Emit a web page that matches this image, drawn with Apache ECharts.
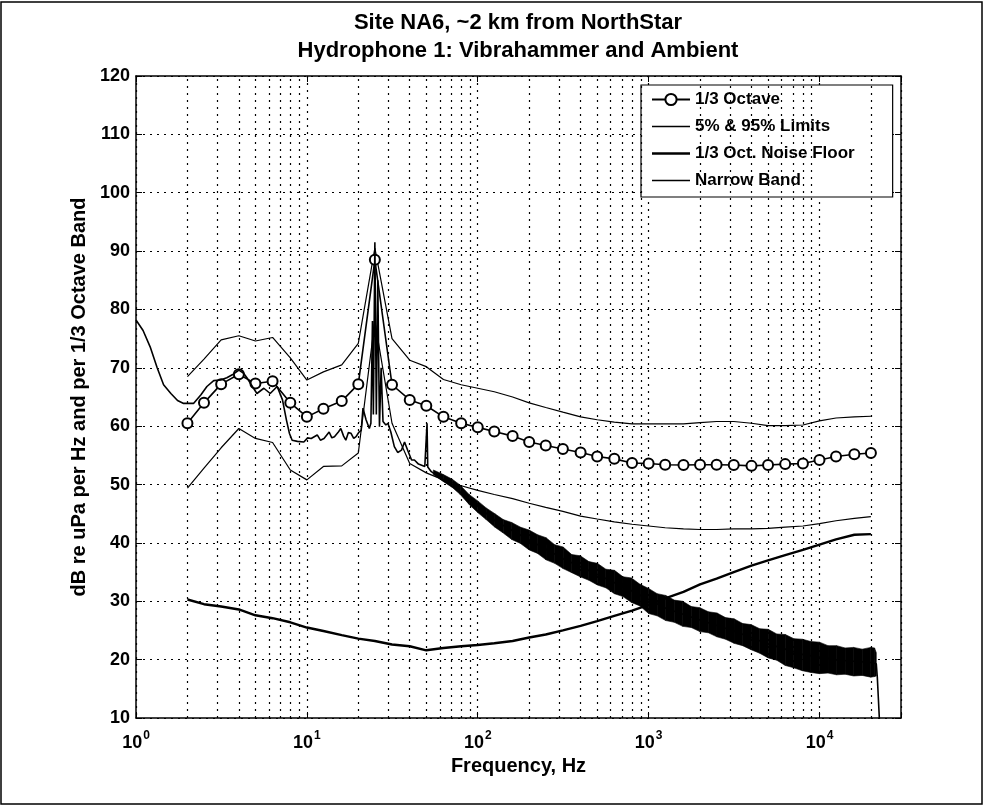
<!DOCTYPE html>
<html><head><meta charset="utf-8">
<script src="https://cdn.jsdelivr.net/npm/echarts@6/dist/echarts.min.js"></script>
<style>html,body{margin:0;padding:0;background:#fff}#c{width:985px;height:807px}</style>
</head><body><div id="c"></div><script>
const FONT = "'Liberation Sans', Arial, Helvetica, sans-serif";
const titleLines = ['Site NA6, ~2 km from NorthStar', 'Hydrophone 1: Vibrahammer and Ambient'];
const xAxisName = 'Frequency, Hz';
const yAxisName = 'dB re uPa per Hz and per 1/3 Octave Band';
const seriesNames = ['1/3 Octave', '5% & 95% Limits', '1/3 Oct. Noise Floor', 'Narrow Band'];

// 1/3 octave band centre frequencies (Hz)
const octFreq = [2, 2.5, 3.15, 4, 5, 6.3, 8, 10, 12.5, 16, 20, 25, 31.5, 40, 50, 63, 80, 100, 125, 160, 200, 250, 315, 400, 500, 630, 800, 1000, 1250, 1600, 2000, 2500, 3150, 4000, 5000, 6300, 8000, 10000, 12500, 16000, 20000];
const octLevel = [60.5, 64.0, 67.2, 68.9, 67.3, 67.7, 64.0, 61.6, 63.0, 64.3, 67.2, 88.5, 67.1, 64.5, 63.5, 61.6, 60.5, 59.8, 59.1, 58.3, 57.3, 56.7, 56.1, 55.5, 54.8, 54.4, 53.7, 53.6, 53.4, 53.35, 53.4, 53.4, 53.35, 53.2, 53.35, 53.5, 53.6, 54.2, 54.8, 55.2, 55.4];
const upperLimit = [68.5, 71.5, 74.8, 75.5, 74.6, 75.2, 71.7, 67.9, 69.3, 70.5, 74.2, 90.5, 75.0, 71.3, 70.2, 68.0, 67.1, 66.5, 65.9, 65.0, 64.0, 63.2, 62.4, 61.6, 61.1, 60.7, 60.4, 60.4, 60.4, 60.4, 60.6, 60.8, 60.8, 60.5, 60.1, 60.1, 60.2, 60.9, 61.4, 61.6, 61.7];
const lowerLimit = [49.4, 52.8, 56.3, 59.6, 57.9, 57.2, 52.5, 50.8, 53.1, 53.2, 55.4, 78.0, 60.5, 53.6, 52.0, 50.8, 49.8, 49.0, 48.3, 47.6, 46.8, 46.1, 45.4, 44.6, 44.1, 43.6, 43.2, 42.9, 42.6, 42.4, 42.3, 42.3, 42.4, 42.4, 42.5, 42.7, 42.9, 43.3, 43.8, 44.2, 44.5];
const noiseFloor = [30.3, 29.5, 29.1, 28.6, 27.6, 27.1, 26.4, 25.5, 24.9, 24.2, 23.6, 23.2, 22.6, 22.3, 21.6, 22.0, 22.3, 22.5, 22.8, 23.2, 23.8, 24.3, 25.0, 25.8, 26.6, 27.5, 28.4, 29.4, 30.5, 31.6, 32.9, 33.9, 35.0, 36.1, 37.0, 37.9, 38.8, 39.7, 40.6, 41.4, 41.5];

// narrow band spectrum (line trace)
const nbFreq = [1, 1.1, 1.21, 1.33, 1.45, 1.6, 1.75, 1.9, 2.17, 2.4, 2.6, 2.85, 3.12, 3.4, 3.66, 4.0, 4.25, 4.48, 4.8, 5.1, 5.6, 6.1, 6.7, 7.2, 7.6, 7.9, 8.2, 8.8, 9.6, 10.1, 10.6, 11.5, 12.0, 12.6, 13.5, 14.0, 14.5, 15.2, 15.8, 16.4, 16.9, 17.5, 18.1, 18.8, 19.4, 20.2, 20.8, 21.3, 22.2, 23.2, 23.7, 24.2, 24.5, 25.0, 25.5, 26.0, 26.6, 27.2, 27.9, 29.0, 29.8, 31.0, 32.5, 34.0, 35.8, 37.3, 39.0, 41.0, 42.6, 45.0, 49.0, 50.0, 50.5, 51.0, 53.5, 58.0, 62.0, 67.0, 75.0, 88.0, 100, 126, 200, 316, 501, 794, 1259, 1995, 3162, 5012, 7943, 12589, 19953, 21500, 21800, 22100, 22400, 22700];
const nbLevel = [78.2, 76.4, 73.6, 70.0, 67.1, 65.6, 64.4, 63.9, 63.9, 65.4, 66.8, 67.8, 67.9, 68.3, 68.8, 69.6, 69.1, 68.2, 66.8, 65.6, 66.5, 65.6, 66.8, 64.5, 61.0, 58.8, 57.6, 57.4, 57.3, 58.0, 57.9, 58.5, 57.6, 57.9, 59.0, 58.0, 58.2, 58.9, 59.6, 58.3, 57.6, 58.9, 58.8, 57.9, 58.2, 59.0, 59.3, 63.1, 61.1, 59.6, 60.5, 78.0, 62.0, 91.5, 62.0, 85.0, 59.9, 70.0, 60.8, 60.2, 60.5, 59.0, 56.5, 55.5, 55.9, 57.3, 55.8, 54.2, 54.2, 53.5, 53.1, 53.0, 60.5, 53.0, 52.2, 51.5, 50.8, 50.2, 49.2, 47.6, 46.3, 43.8, 40.5, 37.3, 34.6, 31.8, 28.8, 26.8, 24.9, 22.7, 20.9, 19.95, 19.5, 19.3, 17.0, 13.5, 10.0, 6.0];

// spread (upper / lower edge) of the noisy narrow band trace
const bandFreq = [55, 63, 71, 79, 89, 100, 112, 126, 141, 158, 178, 200, 224, 251, 282, 316, 355, 398, 447, 501, 562, 631, 708, 794, 891, 1000, 1122, 1259, 1413, 1585, 1778, 1995, 2239, 2512, 2818, 3162, 3548, 3981, 4467, 5012, 5623, 6310, 7079, 7943, 8913, 10000, 11220, 12589, 14125, 15849, 17783, 19953, 21000, 21500];
const bandHigh = [52.5, 51.7, 50.9, 49.9, 48.3, 47.2, 46.0, 45.0, 44.0, 43.5, 42.7, 42.2, 41.4, 40.9, 39.7, 39.3, 38.0, 37.8, 36.8, 36.5, 35.5, 35.3, 34.2, 34.0, 32.9, 32.2, 31.3, 31.0, 30.2, 30.0, 29.1, 28.9, 28.2, 28.0, 27.2, 27.0, 26.2, 26.0, 25.3, 25.2, 24.4, 24.3, 23.6, 23.5, 23.1, 23.0, 22.4, 22.4, 22.0, 22.1, 21.8, 22.1, 22.0, 21.2];
const bandLow = [51.7, 50.5, 49.5, 48.3, 46.6, 45.2, 44.0, 42.7, 41.7, 40.6, 39.9, 38.8, 38.2, 37.1, 36.5, 35.6, 34.9, 34.2, 33.6, 32.8, 32.3, 31.3, 30.8, 29.8, 29.2, 27.9, 27.5, 26.7, 26.4, 25.7, 25.5, 24.8, 24.6, 23.9, 23.5, 22.8, 22.4, 21.7, 21.1, 20.3, 19.9, 19.0, 18.6, 18.1, 17.8, 17.6, 17.7, 17.4, 17.5, 17.2, 17.3, 17.0, 17.1, 17.2];

// axes
const xMin = 1, xMax = 30000;
const yMin = 10, yMax = 120, yStep = 10;
const xMinorTicks = [2,3,4,5,6,7,8,9, 20,30,40,50,60,70,80,90, 200,300,400,500,600,700,800,900, 2000,3000,4000,5000,6000,7000,8000,9000, 20000];

const zip = (xs, ys) => xs.map((x, i) => [x, ys[i]]);
const DOT = [2, 5];
const lineIcon = 'path://M0,0H40V1.6H0Z';
const thickLineIcon = 'path://M0,0H40V2.6H0Z';

const chart = echarts.init(document.getElementById('c'), null, {renderer: 'canvas'});
const axisCommon = {
  axisLine: {show: true, onZero: false, lineStyle: {color: '#000', width: 1.5}},
  axisTick: {show: true, inside: true, length: 6, lineStyle: {color: '#000', width: 1}},
};
const option = {
  backgroundColor: '#fff',
  animation: false,
  textStyle: {fontFamily: FONT, color: '#000'},
  grid: {left: 136, right: 84, top: 76, bottom: 89, show: false},
  graphic: [
    {type: 'rect', shape: {x: 1, y: 2, width: 981, height: 802}, style: {fill: 'none', stroke: '#000', lineWidth: 1.5}, silent: true},
    {type: 'text', x: 518, y: 23, style: {text: titleLines[0], font: 'bold 22px ' + FONT, fill: '#000', textAlign: 'center', textVerticalAlign: 'middle'}},
    {type: 'text', x: 518, y: 51, style: {text: titleLines[1], font: 'bold 22px ' + FONT, fill: '#000', textAlign: 'center', textVerticalAlign: 'middle'}}
  ],
  legend: {
    data: [
      {name: seriesNames[0]},
      {name: seriesNames[1], icon: lineIcon},
      {name: seriesNames[2], icon: thickLineIcon},
      {name: seriesNames[3], icon: lineIcon}
    ],
    orient: 'vertical',
    left: 641, top: 85,
    padding: [6, 38, 8, 10],
    itemGap: 10, itemWidth: 38, itemHeight: 14,
    backgroundColor: '#fff', borderColor: '#000', borderWidth: 1.2, borderRadius: 0,
    textStyle: {fontFamily: FONT, fontSize: 17, fontWeight: 'bold', color: '#000'},
    selectedMode: false
  },
  xAxis: [
    Object.assign({
      type: 'log', logBase: 10, min: xMin, max: xMax, position: 'bottom',
      name: xAxisName, nameLocation: 'middle', nameGap: 36,
      nameTextStyle: {fontFamily: FONT, fontSize: 20, fontWeight: 'bold', color: '#000'},
      axisLabel: {
        margin: 12, color: '#000',
        formatter: function (v) {
          const e = Math.round(Math.log10(v));
          if (Math.abs(Math.log10(v) - e) > 1e-6) return '';
          return '{b|10}{s|' + e + '}';
        },
        rich: {
          b: {fontFamily: FONT, fontSize: 18, fontWeight: 'bold', color: '#000', verticalAlign: 'bottom'},
          s: {fontFamily: FONT, fontSize: 12, fontWeight: 'bold', color: '#000', verticalAlign: 'top', padding: [0, 0, 10, 1]}
        }
      },
      splitLine: {show: true, lineStyle: {color: '#000', type: DOT, width: 1.2}}
    }, axisCommon),
    Object.assign({
      type: 'log', logBase: 10, min: xMin, max: xMax, position: 'top',
      axisLabel: {show: false}, splitLine: {show: false}
    }, axisCommon)
  ],
  yAxis: [
    Object.assign({
      type: 'value', min: yMin, max: yMax, interval: yStep, position: 'left',
      name: yAxisName, nameLocation: 'middle', nameGap: 46, nameRotate: 90,
      nameTextStyle: {fontFamily: FONT, fontSize: 20, fontWeight: 'bold', color: '#000'},
      axisLabel: {margin: 6, fontFamily: FONT, fontSize: 18, fontWeight: 'bold', color: '#000'},
      splitLine: {show: true, lineStyle: {color: '#000', type: DOT, width: 1.2}}
    }, axisCommon),
    Object.assign({
      type: 'value', min: yMin, max: yMax, interval: yStep, position: 'right',
      axisLabel: {show: false}, splitLine: {show: false}
    }, axisCommon)
  ],
  series: [
    {
      name: 'minorGrid', type: 'line', data: [], silent: true,
      markLine: {
        silent: true, symbol: 'none', label: {show: false}, animation: false,
        lineStyle: {color: '#000', type: DOT, width: 1.2},
        data: xMinorTicks.map(v => ({xAxis: v}))
      }
    },
    {
      name: seriesNames[2], type: 'line', data: zip(octFreq, noiseFloor), symbol: 'none', z: 4,
      lineStyle: {color: '#000', width: 2.4}, itemStyle: {color: '#000'}
    },
    {
      name: seriesNames[1], type: 'line', data: zip(octFreq, upperLimit), symbol: 'none', z: 4,
      lineStyle: {color: '#000', width: 1.2}, itemStyle: {color: '#000'}
    },
    {
      name: seriesNames[1], type: 'line', data: zip(octFreq, lowerLimit), symbol: 'none', z: 4,
      lineStyle: {color: '#000', width: 1.2}, itemStyle: {color: '#000'}
    },
    {
      name: seriesNames[0], type: 'line', data: zip(octFreq, octLevel), z: 5,
      symbol: 'emptyCircle', symbolSize: 10, showAllSymbol: true,
      lineStyle: {color: '#000', width: 1.6},
      itemStyle: {color: '#000', borderColor: '#000', borderWidth: 1.6}
    },
    {
      name: 'narrowSpread', type: 'custom', silent: true, z: 6,
      data: bandFreq.map((f, i) => [f, bandLow[i], bandHigh[i]]),
      encode: {x: 0, y: [1, 2]},
      renderItem: function (params, api) {
        const i = params.dataIndex;
        if (i >= bandFreq.length - 1) return null;
        const pts = [
          api.coord([bandFreq[i], bandLow[i]]),
          api.coord([bandFreq[i + 1], bandLow[i + 1]]),
          api.coord([bandFreq[i + 1], bandHigh[i + 1]]),
          api.coord([bandFreq[i], bandHigh[i]])
        ];
        return {type: 'polygon', shape: {points: pts}, style: {fill: '#000', stroke: '#000', lineWidth: 0.6}};
      }
    },
    {
      name: seriesNames[3], type: 'line', data: zip(nbFreq, nbLevel), symbol: 'none', z: 6,
      lineStyle: {color: '#000', width: 1.6}, itemStyle: {color: '#000'}
    }
  ]
};
chart.setOption(option);
</script></body></html>
